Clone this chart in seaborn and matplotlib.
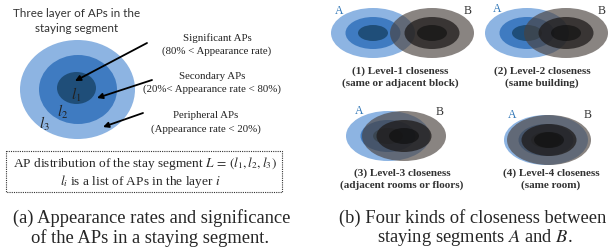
import matplotlib
matplotlib.use("Agg")
import matplotlib.pyplot as plt
from matplotlib.patches import Ellipse, Rectangle
import seaborn as sns

# ---------------- data ----------------
title_lines = ["Three layer of APs in the", "staying segment"]
layer_labels = ["$l_1$", "$l_2$", "$l_3$"]
layer_names = ["Significant APs", "Secondary APs", "Peripheral APs"]
layer_rates = ["(80% < Appearance rate)", "(20%< Appearance rate < 80%)", "(Appearance rate < 20%)"]
box_lines = ["AP distribution of the stay segment $L\\,=\\,(l_1, l_2, l_3)$",
             "$l_i$ is a list of APs in the layer $i$"]
caption_a = ["(a) Appearance rates and significance", "of the APs in a staying segment."]
closeness_titles = ["(1) Level-1 closeness", "(2) Level-2 closeness",
                    "(3) Level-3 closeness", "(4) Level-4 closeness"]
closeness_desc = ["(same or adjacent block)", "(same building)",
                  "(adjacent rooms or floors)", "(same room)"]
segment_names = ["A", "B"]
caption_b = ["(b) Four kinds of closeness between", "staying segments $A$ and $B$."]

# ---------------- style ----------------
sns.set_theme(style="white")
plt.rcParams["font.family"] = ["Liberation Serif", "DejaVu Serif"]
plt.rcParams["mathtext.fontset"] = "stix"

blue_cols = ["#1f4e79", "#3f7bc1", "#8db4e2"]     # inner, middle, outer
grey_cols = ["#0d0d0d", "#1e1b1a", "#4a423e"]
grey_alpha = [0.6, 0.75, 0.65]

fig = plt.figure(figsize=(6.08, 2.53), dpi=100)
ax = fig.add_axes([0, 0, 1, 1])
ax.set_xlim(0, 608)
ax.set_ylim(253, 0)
ax.axis("off")

# ---------------- panel (a) ----------------
for i, t in enumerate(title_lines):
    ax.text(77, 13 + 15 * i, t, ha="center", va="center", fontsize=8.4,
            family=["Lato", "DejaVu Sans"], color="#333333")

layer_geom = [((76.5, 89), 39, 32), ((78, 90.5), 78, 69), ((77.5, 90.5), 115, 99)]
for k in [2, 1, 0]:
    (cx, cy), w, h = layer_geom[k]
    ax.add_patch(Ellipse((cx, cy), w, h, facecolor=blue_cols[k], edgecolor="none"))

label_pos = [(76, 95), (63, 112), (44, 124)]
for lab, (x, y) in zip(layer_labels, label_pos):
    ax.text(x, y, lab, ha="center", va="center", fontsize=11, color="#222222")

arrows = [((147, 44), (75, 82)), ((152, 81), (97, 99)), ((143, 114), (103, 128))]
for (s, e) in arrows:
    ax.annotate("", xy=e, xytext=s,
                arrowprops=dict(arrowstyle="-|>", color="black", lw=1.3,
                                mutation_scale=8, shrinkA=0, shrinkB=0))

name_pos = [(217, 38), (212, 76), (206, 116)]
for nm, rt, (x, y) in zip(layer_names, layer_rates, name_pos):
    ax.text(x, y, nm, ha="center", va="center", fontsize=7.8, color="#222222")
    ax.text(x, y + 13, rt, ha="center", va="center", fontsize=7.8, color="#222222")

ax.add_patch(Rectangle((6, 152), 276, 41, fill=False, edgecolor="#333333",
                       linestyle=(0, (1, 1)), lw=0.8))
ax.text(145, 164, box_lines[0], ha="center", va="center", fontsize=9.6)
ax.text(140, 182, box_lines[1], ha="center", va="center", fontsize=9.6)

ax.text(152, 218, caption_a[0], ha="center", va="center", fontsize=13.3)
ax.text(150, 238, caption_a[1], ha="center", va="center", fontsize=13.3)

# ---------------- panel (b) ----------------
sizes = [(30, 16), (55, 32), (84, 50)]  # inner, middle, outer
diagrams = [
    dict(a=(373, 34), b=(432, 34), la=(339, 11), lb=(468, 11), cap=(400, 71)),
    dict(a=(527, 34), b=(566, 34), la=(497, 9), lb=(602, 11), cap=(542, 71)),
    dict(a=(388, 137), b=(404, 137), la=(359, 111), lb=(440, 112), cap=(402, 173)),
    dict(a=(546, 141), b=(549, 141), la=(512, 115), lb=(588, 115), cap=(551, 173)),
]
for d, ttl, desc in zip(diagrams, closeness_titles, closeness_desc):
    for k in [2, 1, 0]:
        w, h = sizes[k]
        ax.add_patch(Ellipse(d["a"], w, h, facecolor=blue_cols[k], edgecolor="none"))
    for k in [2, 1, 0]:
        w, h = sizes[k]
        ax.add_patch(Ellipse(d["b"], w, h, facecolor=grey_cols[k], alpha=grey_alpha[k],
                             edgecolor="none"))
    ax.text(*d["la"], segment_names[0], ha="center", va="center", fontsize=8.5, color="#2e75b6")
    ax.text(*d["lb"], segment_names[1], ha="center", va="center", fontsize=8.5, color="#333333")
    cx, cy = d["cap"]
    ax.text(cx, cy, ttl, ha="center", va="center", fontsize=8.0, fontweight="bold", color="#333333")
    ax.text(cx, cy + 12.5, desc, ha="center", va="center", fontsize=8.0, fontweight="bold", color="#333333")

ax.text(473, 218, caption_b[0], ha="center", va="center", fontsize=13.3)
ax.text(475, 238, caption_b[1], ha="center", va="center", fontsize=13.3)

fig.savefig("out.png", dpi=100)
